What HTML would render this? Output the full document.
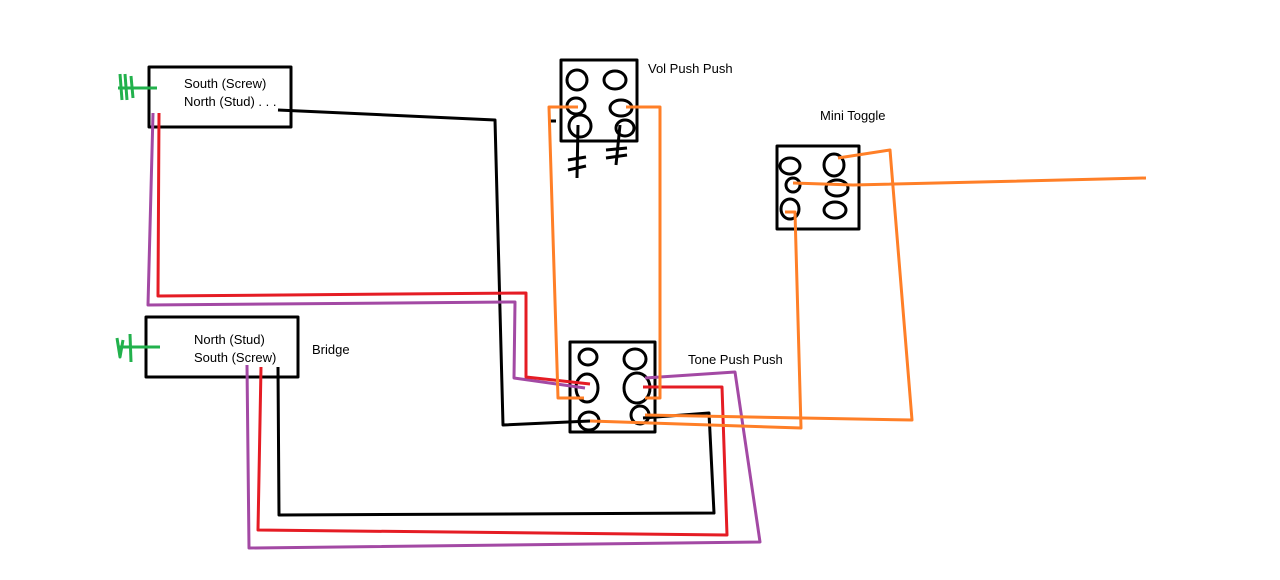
<!DOCTYPE html>
<html><head><style>
body{margin:0;background:#fff;}
svg{display:block;font-family:"Liberation Sans",sans-serif;font-size:13px;}
</style></head><body>
<svg width="1280" height="580" viewBox="0 0 1280 580" xmlns="http://www.w3.org/2000/svg">
<g fill="none" stroke-width="3" stroke-linejoin="round">
<!-- boxes -->
<rect x="149" y="67" width="142" height="60" stroke="#000"/>
<rect x="146" y="317" width="152" height="60" stroke="#000"/>
<rect x="561" y="60" width="76" height="81" stroke="#000"/>
<rect x="570" y="342" width="85" height="90" stroke="#000"/>
<rect x="777" y="146" width="82" height="83" stroke="#000"/>
<!-- vol lugs -->
<g stroke="#000">
<ellipse cx="577" cy="80" rx="10" ry="10"/>
<ellipse cx="615" cy="80" rx="11" ry="9"/>
<ellipse cx="576" cy="106" rx="9" ry="8"/>
<ellipse cx="621" cy="108" rx="11" ry="8"/>
<ellipse cx="580" cy="126" rx="11" ry="11"/>
<ellipse cx="625" cy="128" rx="9" ry="8"/>
<!-- tone lugs -->
<ellipse cx="588" cy="357" rx="9" ry="8"/>
<ellipse cx="635" cy="359" rx="11" ry="10"/>
<ellipse cx="587" cy="388" rx="11" ry="14"/>
<ellipse cx="637" cy="388" rx="13" ry="15"/>
<ellipse cx="589" cy="421" rx="10" ry="9"/>
<ellipse cx="640" cy="415" rx="9" ry="9"/>
<!-- toggle lugs -->
<ellipse cx="790" cy="166" rx="10" ry="8"/>
<ellipse cx="834" cy="165" rx="10" ry="11"/>
<ellipse cx="793" cy="185" rx="7" ry="7"/>
<ellipse cx="837" cy="188" rx="11" ry="8"/>
<ellipse cx="790" cy="209" rx="9" ry="10"/>
<ellipse cx="835" cy="210" rx="11" ry="8"/>
</g>
<!-- black wires -->
<g stroke="#000">
<polyline points="278,110 495,120 503,425 590,421"/>
<polyline points="643,418 709,413 714,513 279,515 278,367"/>
<line x1="548" y1="121" x2="556" y2="121"/>
<polyline points="578,125 577,178"/>
<line x1="568" y1="160" x2="586" y2="157"/>
<line x1="568" y1="170" x2="586" y2="166"/>
<polyline points="620,125 616,165"/>
<line x1="606" y1="150" x2="627" y2="148"/>
<line x1="606" y1="158" x2="627" y2="155"/>
</g>
<!-- purple -->
<g stroke="#a349a4">
<polyline points="153,113 148,305 515,302 514,378 585,388"/>
<polyline points="645,378 735,372 760,542 249,548 247,365"/>
</g>
<!-- red -->
<g stroke="#e51c24">
<polyline points="159,113 158,296 526,293 526,377 590,384"/>
<polyline points="643,387 722,387 727,535 258,530 261,367"/>
</g>
<!-- orange -->
<g stroke="#ff7f27">
<polyline points="578,107 549,107 558,398 584,398"/>
<polyline points="626,107 660,107 660,398 645,398"/>
<polyline points="590,421 801,428 795,212 785,212"/>
<polyline points="645,415 912,420 890,150 838,158"/>
<polyline points="793,183 853,185 1146,178"/>
</g>
<!-- green -->
<g stroke="#22b14c">
<line x1="118" y1="88" x2="157" y2="88"/>
<polyline points="120,74 122,100"/>
<polyline points="125,74 127,100"/>
<polyline points="131,76 133,98"/>
<line x1="118" y1="347" x2="160" y2="347"/>
<polyline points="117,338 120,357 123,340"/>
<line x1="130" y1="334" x2="131" y2="362"/>
</g>
</g>
<g fill="#000">
<text x="184" y="88">South (Screw)</text>
<text x="184" y="106">North (Stud) . . .</text>
<text x="194" y="344">North (Stud)</text>
<text x="194" y="362">South (Screw)</text>
<text x="312" y="354">Bridge</text>
<text x="648" y="73">Vol Push Push</text>
<text x="820" y="120">Mini Toggle</text>
<text x="688" y="364">Tone Push Push</text>
</g>
</svg>
</body></html>
